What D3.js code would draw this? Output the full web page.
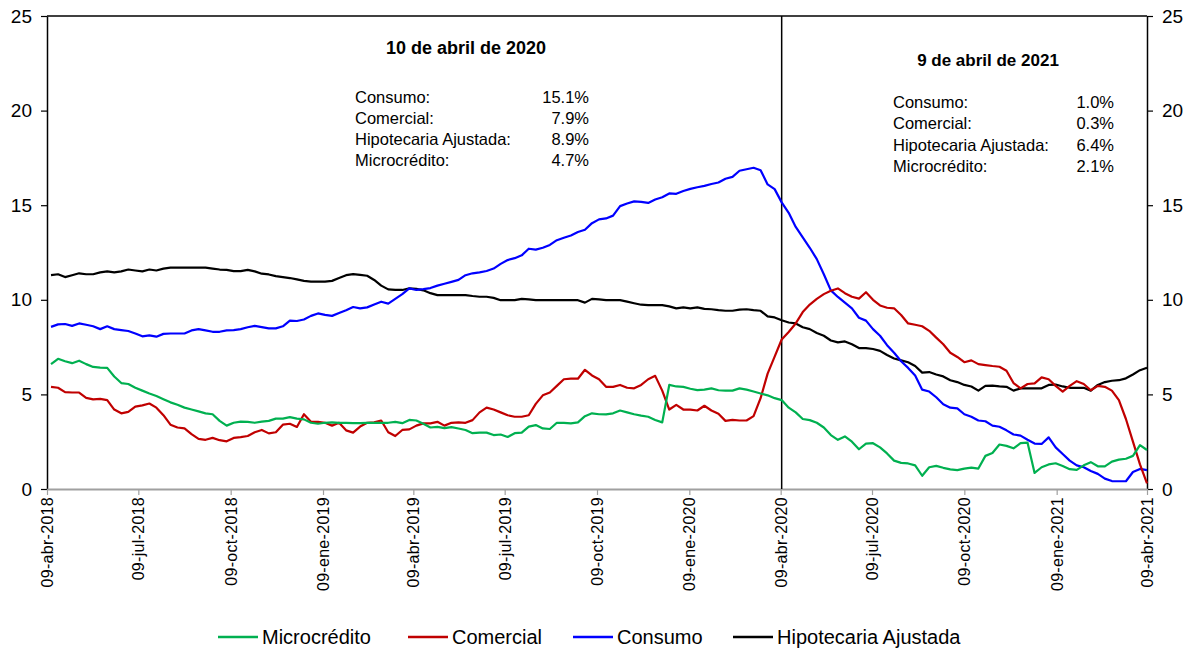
<!DOCTYPE html>
<html>
<head>
<meta charset="utf-8">
<script src="https://d3js.org/d3.v7.min.js"></script>
<style>
  body { margin: 0; background: #fff; }
  text { font-family: "Liberation Sans", Arial, sans-serif; }
</style>
</head>
<body>
<div id="chart"></div>
<script>
// weekly series, last point 09-abr-2021 (values in %)
const microcredito = [
  6.6, 6.88, 6.75, 6.65, 6.78, 6.6, 6.45, 6.42, 6.4, 5.95,
  5.6, 5.55, 5.35, 5.2, 5.05, 4.92, 4.75, 4.58, 4.45, 4.3,
  4.2, 4.1, 4.0, 3.95, 3.6, 3.35, 3.5, 3.56, 3.55, 3.5,
  3.56, 3.6, 3.72, 3.72, 3.8, 3.72, 3.68, 3.5, 3.45, 3.5,
  3.52, 3.5, 3.5, 3.48, 3.48, 3.5, 3.5, 3.5, 3.5, 3.55,
  3.48, 3.65, 3.62, 3.45, 3.25, 3.28, 3.22, 3.27, 3.2, 3.12,
  2.95, 2.98, 2.98, 2.85, 2.88, 2.75, 2.95, 2.98, 3.3, 3.38,
  3.2, 3.17, 3.5, 3.5, 3.47, 3.52, 3.85, 4.0, 3.95, 3.94,
  4.0, 4.15, 4.05, 3.95, 3.88, 3.82, 3.65, 3.52, 5.5, 5.42,
  5.4, 5.3, 5.23, 5.25, 5.32, 5.22, 5.2, 5.2, 5.32, 5.25,
  5.15, 5.05, 4.95, 4.8, 4.7, 4.3, 4.05, 3.7, 3.64, 3.5,
  3.25, 2.85, 2.6, 2.78, 2.5, 2.1, 2.4, 2.42, 2.2, 1.88,
  1.5, 1.38, 1.35, 1.25, 0.7, 1.15, 1.22, 1.12, 1.04, 1.0,
  1.08, 1.13, 1.08, 1.75, 1.9, 2.35, 2.28, 2.15, 2.42, 2.45,
  0.85, 1.15, 1.3, 1.36, 1.22, 1.05, 1.01, 1.25, 1.42, 1.2,
  1.2, 1.45, 1.55, 1.6, 1.75, 2.32, 2.06
];
const comercial = [
  5.4, 5.35, 5.12, 5.1, 5.1, 4.82, 4.74, 4.76, 4.7, 4.2,
  4.0, 4.08, 4.35, 4.42, 4.52, 4.3, 3.9, 3.4, 3.25, 3.2,
  2.9, 2.65, 2.6, 2.7, 2.58, 2.52, 2.7, 2.74, 2.8, 3.0,
  3.12, 2.94, 3.0, 3.4, 3.45, 3.28, 3.95, 3.55, 3.55, 3.5,
  3.35, 3.5, 3.1, 2.98, 3.3, 3.5, 3.52, 3.62, 3.0, 2.8,
  3.12, 3.15, 3.35, 3.47, 3.47, 3.55, 3.35, 3.5, 3.52, 3.5,
  3.64, 4.05, 4.3, 4.2, 4.05, 3.9, 3.82, 3.82, 3.9, 4.5,
  4.95, 5.1, 5.45, 5.8, 5.83, 5.83, 6.3, 6.0, 5.8, 5.4,
  5.4, 5.5, 5.35, 5.32, 5.5, 5.8, 5.98, 5.2, 4.2, 4.45,
  4.2, 4.2, 4.15, 4.4, 4.15, 3.98, 3.6, 3.65, 3.62, 3.62,
  3.85, 4.8, 6.1, 7.0, 7.9, 8.3, 8.75, 9.35, 9.75, 10.05,
  10.3, 10.48, 10.6, 10.35, 10.16, 10.06, 10.4, 10.0, 9.7, 9.58,
  9.55, 9.2, 8.75, 8.68, 8.6, 8.36, 8.0, 7.65, 7.2, 6.98,
  6.7, 6.8, 6.6, 6.55, 6.5, 6.46, 6.25, 5.6, 5.32, 5.55,
  5.58, 5.9, 5.8, 5.45, 5.15, 5.45, 5.7, 5.55, 5.22, 5.45,
  5.4, 5.2, 4.7, 3.7, 2.5, 1.3, 0.3
];
const consumo = [
  8.57, 8.7, 8.72, 8.62, 8.75, 8.68, 8.6, 8.45, 8.6, 8.45,
  8.4, 8.35, 8.22, 8.07, 8.12, 8.05, 8.2, 8.22, 8.22, 8.22,
  8.38, 8.45, 8.38, 8.31, 8.31, 8.38, 8.4, 8.45, 8.55, 8.62,
  8.56, 8.49, 8.49, 8.6, 8.9, 8.88, 8.96, 9.15, 9.28, 9.2,
  9.15, 9.3, 9.45, 9.62, 9.55, 9.6, 9.75, 9.9, 9.8, 10.05,
  10.3, 10.6, 10.52, 10.56, 10.62, 10.75, 10.85, 10.95, 11.05, 11.3,
  11.4, 11.45, 11.52, 11.65, 11.9, 12.1, 12.2, 12.35, 12.7, 12.65,
  12.75, 12.9, 13.15, 13.28, 13.4, 13.58, 13.7, 14.05, 14.25, 14.3,
  14.45, 14.95, 15.09, 15.2, 15.18, 15.12, 15.3, 15.42, 15.62, 15.6,
  15.75, 15.86, 15.95, 16.02, 16.12, 16.2, 16.4, 16.5, 16.82, 16.9,
  16.98, 16.85, 16.1, 15.85, 15.15, 14.6, 13.85, 13.3, 12.75, 12.15,
  11.35, 10.5, 10.15, 9.85, 9.55, 9.05, 8.9, 8.45, 8.1, 7.6,
  7.2, 6.75, 6.4, 6.0, 5.25, 5.15, 4.85, 4.48, 4.3, 4.26,
  3.95, 3.82, 3.62, 3.58, 3.35, 3.29, 3.1, 2.88, 2.82, 2.6,
  2.4, 2.38, 2.73, 2.2, 1.85, 1.5, 1.25, 1.15, 0.95, 0.8,
  0.55, 0.42, 0.41, 0.41, 0.9, 1.06, 1.0
];
const hipotecaria = [
  11.3, 11.35, 11.2, 11.3, 11.4, 11.35, 11.35, 11.45, 11.5, 11.45,
  11.5, 11.6, 11.55, 11.5, 11.6, 11.55, 11.65, 11.7, 11.7, 11.7,
  11.7, 11.7, 11.7, 11.65, 11.6, 11.58, 11.52, 11.52, 11.58, 11.5,
  11.38, 11.34, 11.25, 11.2, 11.15, 11.08, 11.0, 10.96, 10.96, 10.96,
  11.0, 11.15, 11.3, 11.36, 11.32, 11.27, 11.05, 10.75, 10.55, 10.52,
  10.52, 10.6, 10.58, 10.5, 10.35, 10.25, 10.25, 10.25, 10.25, 10.25,
  10.2, 10.16, 10.16, 10.1, 9.98, 9.98, 9.98, 10.05, 10.02, 9.98,
  9.98, 9.98, 9.98, 9.98, 9.98, 9.98, 9.85, 10.05, 10.02, 9.98,
  9.98, 9.98, 9.9, 9.82, 9.74, 9.72, 9.72, 9.72, 9.65, 9.55,
  9.6, 9.55, 9.6, 9.52, 9.5, 9.45, 9.42, 9.42, 9.48, 9.5,
  9.45, 9.42, 9.12, 9.07, 8.92, 8.8, 8.75, 8.55, 8.45, 8.25,
  8.1, 7.85, 7.75, 7.8, 7.65, 7.45, 7.45, 7.4, 7.3, 7.08,
  6.9, 6.8, 6.7, 6.5, 6.15, 6.18, 6.05, 5.95, 5.75, 5.65,
  5.5, 5.42, 5.2, 5.45, 5.46, 5.42, 5.4, 5.2, 5.32, 5.32,
  5.32, 5.32, 5.5, 5.52, 5.42, 5.35, 5.35, 5.35, 5.2, 5.5,
  5.65, 5.72, 5.75, 5.85, 6.05, 6.28, 6.41
];

const seriesNames = ["Microcrédito", "Comercial", "Consumo", "Hipotecaria Ajustada"];
const seriesColors = ["#00b050", "#c00000", "#0000ff", "#000000"];
const tickDates = ["2018-04-09", "2018-07-09", "2018-10-09", "2019-01-09", "2019-04-09",
  "2019-07-09", "2019-10-09", "2020-01-09", "2020-04-09", "2020-07-09",
  "2020-10-09", "2021-01-09", "2021-04-09"];
const monthNames = ["ene", "feb", "mar", "abr", "may", "jun", "jul", "ago", "sep", "oct", "nov", "dic"];
const yTicks = [0, 5, 10, 15, 20, 25];

const markDate = "2020-04-10";
const title1 = "10 de abril de 2020";
const title2 = "9 de abril de 2021";
const boxLabels = ["Consumo:", "Comercial:", "Hipotecaria Ajustada:", "Microcrédito:"];
const values2020 = ["15.1%", "7.9%", "8.9%", "4.7%"];
const values2021 = ["1.0%", "0.3%", "6.4%", "2.1%"];

const w = 1194, h = 650;
const padL = 47, padR = 1147, padT = 16, padB = 489;

const parse = d3.utcParse("%Y-%m-%d");
const lastDate = parse("2021-04-09");
const n = consumo.length;
const dates = d3.range(n).map(i => d3.utcDay.offset(lastDate, -7 * (n - 1 - i)));

const xScale = d3.scaleUtc()
  .domain([parse(tickDates[0]), parse(tickDates[tickDates.length - 1])])
  .range([padL, padR]);
const yScale = d3.scaleLinear().domain([0, 25]).range([padB, padT]);

const svg = d3.select("#chart").append("svg")
  .attr("width", w).attr("height", h);

svg.append("rect").attr("width", w).attr("height", h).attr("fill", "#fff");

// top border
svg.append("line")
  .attr("x1", padL).attr("x2", padR)
  .attr("y1", padT).attr("y2", padT)
  .attr("stroke", "#000").attr("stroke-width", 1.5);

// left axis
const yLeft = svg.append("g")
  .attr("transform", "translate(" + padL + ",0)")
  .call(d3.axisLeft(yScale).tickValues(yTicks).tickSize(6).tickPadding(9).tickSizeOuter(0));
// right axis
const yRight = svg.append("g")
  .attr("transform", "translate(" + padR + ",0)")
  .call(d3.axisRight(yScale).tickValues(yTicks).tickSize(6).tickPadding(9).tickSizeOuter(0));
[yLeft, yRight].forEach(g => {
  g.select(".domain").attr("stroke", "#000").attr("stroke-width", 1.5);
  g.selectAll(".tick line").attr("stroke", "#000").attr("stroke-width", 1.2);
  g.selectAll("text").style("font-size", "19px").attr("fill", "#000")
    .style("font-family", "'Liberation Sans', Arial, sans-serif");
});

// bottom axis
const fmt = d => {
  const s = d3.utcFormat("%d")(d);
  return s + "-" + monthNames[d.getUTCMonth()] + "-" + d.getUTCFullYear();
};
const xAxis = svg.append("g")
  .attr("transform", "translate(0," + padB + ")")
  .call(d3.axisBottom(xScale).tickValues(tickDates.map(parse)).tickFormat(fmt)
    .tickSize(6).tickSizeOuter(0));
xAxis.select(".domain").attr("stroke", "#a0a0a0").attr("stroke-width", 2);
xAxis.selectAll(".tick line").attr("stroke", "#a0a0a0").attr("stroke-width", 1.2);
xAxis.selectAll("text")
  .attr("transform", "translate(0,8) rotate(-90)")
  .attr("x", 0).attr("y", 0).attr("dy", "0.35em")
  .style("text-anchor", "end")
  .style("font-size", "16px")
  .style("letter-spacing", "0.3px")
  .style("font-family", "'Liberation Sans', Arial, sans-serif")
  .attr("fill", "#000");

// vertical marker
svg.append("line")
  .attr("x1", xScale(parse(markDate))).attr("x2", xScale(parse(markDate)))
  .attr("y1", padT).attr("y2", padB)
  .attr("stroke", "#000").attr("stroke-width", 1.5);

// lines
const allSeries = [microcredito, comercial, consumo, hipotecaria];
const line = d3.line()
  .x((d, i) => xScale(dates[i]))
  .y(d => yScale(d));

// draw order: black, blue, red, green on top
[3, 2, 1, 0].forEach(k => {
  svg.append("path")
    .datum(allSeries[k])
    .attr("fill", "none")
    .attr("stroke", seriesColors[k])
    .attr("stroke-width", 2.2)
    .attr("stroke-linejoin", "round")
    .attr("d", line);
});

// annotation boxes
function box(title, titleX, titleY, titleSize, labelX, valueX, firstY, step, values) {
  svg.append("text")
    .attr("x", titleX).attr("y", titleY)
    .attr("text-anchor", "middle")
    .style("font-weight", "bold")
    .style("font-size", titleSize + "px")
    .text(title);
  boxLabels.forEach((lab, i) => {
    svg.append("text")
      .attr("x", labelX).attr("y", firstY + i * step)
      .style("font-size", "16.5px")
      .text(lab);
    svg.append("text")
      .attr("x", valueX).attr("y", firstY + i * step)
      .attr("text-anchor", "end")
      .style("font-size", "16.5px")
      .text(values[i]);
  });
}
box(title1, 466, 54, 18, 355, 589, 103, 21, values2020);
box(title2, 988, 66, 17, 893, 1114, 108, 21.3, values2021);

// legend
const legendX = [218, 408, 573, 733];
const legend = svg.append("g");
seriesNames.forEach((name, i) => {
  legend.append("line")
    .attr("x1", legendX[i]).attr("x2", legendX[i] + 40)
    .attr("y1", 637).attr("y2", 637)
    .attr("stroke", seriesColors[i]).attr("stroke-width", 2.5);
  legend.append("text")
    .attr("x", legendX[i] + 44).attr("y", 644)
    .style("font-size", "20px")
    .text(name);
});
</script>
</body>
</html>
